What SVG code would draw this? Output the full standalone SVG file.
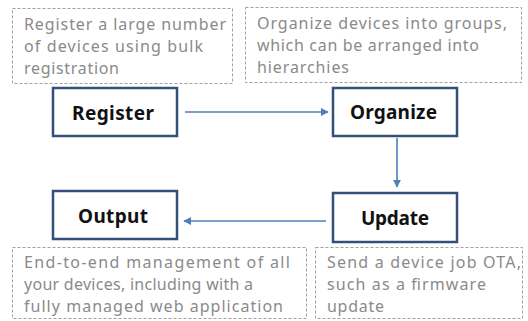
<svg xmlns="http://www.w3.org/2000/svg" width="528" height="321" viewBox="0 0 528 321">
<style>
.note{fill:#fff;stroke:#a0a0a0;stroke-width:1;stroke-dasharray:3,2}
.nt{font-family:"Noto Sans","Open Sans",sans-serif;font-size:16px;fill:#8a8a8a}
.box{fill:#fff;stroke:#34507a;stroke-width:2.5}
.bt{font-family:"Noto Sans","Open Sans",sans-serif;font-size:19px;font-weight:bold;fill:#111}
.conn{stroke:#4f7fb8;stroke-width:1.6;fill:none}
</style>
<defs>
<marker id="ah" viewBox="0 0 10 10" refX="9" refY="5" markerWidth="8" markerHeight="8" orient="auto" markerUnits="userSpaceOnUse">
<path d="M0,0 L10,5 L0,10 z" fill="#4f7fb8"/>
</marker>
</defs>
<rect width="528" height="321" fill="#fff"/>
<g id="note-register">
<rect class="note" x="12.5" y="8.5" width="220" height="75"/>
<text class="nt" lengthAdjust="spacing"><tspan x="24" y="30" textLength="202">Register a large number</tspan><tspan x="24" y="52" textLength="179">of devices using bulk</tspan><tspan x="24" y="74" textLength="95">registration</tspan></text>
</g>
<g id="note-organize">
<rect class="note" x="245.5" y="7.5" width="276" height="75"/>
<text class="nt"><tspan x="257" y="29" textLength="250">Organize devices into groups,</tspan><tspan x="257" y="51" textLength="222">which can be arranged into</tspan><tspan x="257" y="73" textLength="92">hierarchies</tspan></text>
</g>
<g id="note-output">
<rect class="note" x="12.5" y="247.5" width="294" height="71"/>
<text class="nt"><tspan x="24" y="268" textLength="266">End-to-end management of all</tspan><tspan x="24" y="290" textLength="229">your devices, including with a</tspan><tspan x="24" y="312" textLength="259">fully managed web application</tspan></text>
</g>
<g id="note-update">
<rect class="note" x="315.5" y="247.5" width="207" height="71"/>
<text class="nt"><tspan x="327" y="268" textLength="194">Send a device job OTA,</tspan><tspan x="327" y="290" textLength="159">such as a firmware</tspan><tspan x="327" y="312" textLength="57">update</tspan></text>
</g>
<g id="register">
<rect class="box" x="53" y="88" width="124" height="48"/>
<text class="bt" x="72" y="120" textLength="82">Register</text>
</g>
<g id="organize">
<rect class="box" x="333" y="88" width="124" height="48"/>
<text class="bt" x="350" y="119" textLength="87">Organize</text>
</g>
<g id="update">
<rect class="box" x="333" y="193" width="124" height="49"/>
<text class="bt" x="361" y="225" textLength="68">Update</text>
</g>
<g id="output">
<rect class="box" x="53" y="191" width="124" height="48"/>
<text class="bt" x="78" y="223" textLength="70">Output</text>
</g>
<g id="connectors">
<line class="conn" x1="185" y1="112" x2="328" y2="112" marker-end="url(#ah)"/>
<line class="conn" x1="397" y1="138" x2="397" y2="187" marker-end="url(#ah)"/>
<line class="conn" x1="326" y1="221" x2="184" y2="221" marker-end="url(#ah)"/>
</g>
</svg>
